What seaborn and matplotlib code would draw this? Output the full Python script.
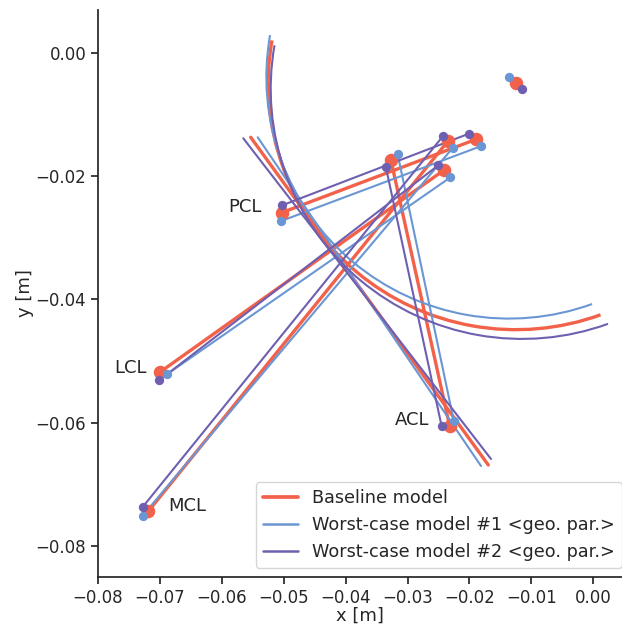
import numpy as np
import pandas as pd
import matplotlib
matplotlib.use("Agg")
import matplotlib.pyplot as plt
from matplotlib.patches import Arc
import seaborn as sns

# ---------------- data (metres) ----------------
models = ["Baseline model",
          "Worst-case model #1 <geo. par.>",
          "Worst-case model #2 <geo. par.>"]

ligaments = ["PCL", "ACL", "LCL", "MCL"]

# lower (labelled) attachment points, order = ligaments
base_low_x = [-0.0503, -0.0232, -0.0700, -0.0719]
base_low_y = [-0.0259, -0.0605, -0.0518, -0.0744]
wc1_low_x = [-0.0505, -0.0225, -0.0688, -0.0728]
wc1_low_y = [-0.0273, -0.0598, -0.0521, -0.0751]
wc2_low_x = [-0.0502, -0.0245, -0.0701, -0.0728]
wc2_low_y = [-0.0247, -0.0605, -0.0531, -0.0737]

# upper attachment points, order = ligaments
base_up_x = [-0.0189, -0.0327, -0.0241, -0.0234]
base_up_y = [-0.0140, -0.0173, -0.0190, -0.0142]
wc1_up_x = [-0.0181, -0.0316, -0.0231, -0.0227]
wc1_up_y = [-0.0151, -0.0164, -0.0202, -0.0154]
wc2_up_x = [-0.0201, -0.0335, -0.0250, -0.0242]
wc2_up_y = [-0.0131, -0.0185, -0.0182, -0.0134]

# femur origin (centre of condyle arc)
origin_x = [-0.0125, -0.0136, -0.0115]
origin_y = [-0.0049, -0.0039, -0.0058]
# condyle arc radius and angular span (deg)
arc_radius = [0.0400, 0.0392, 0.0406]
arc_theta1 = [170.0, 170.0, 170.0]
arc_theta2 = [290.0, 290.0, 290.0]

# tibial line end points
tib_x1 = [-0.05533, -0.0542, -0.05653]
tib_y1 = [-0.01368, -0.01368, -0.01384]
tib_x2 = [-0.01695, -0.01813, -0.01651]
tib_y2 = [-0.06686, -0.06702, -0.06589]

label_text = ["PCL", "ACL", "LCL", "MCL"]
label_x = [-0.0535, -0.0264, -0.0721, -0.0687]
label_y = [-0.0250, -0.0596, -0.0511, -0.0735]
label_ha = ["right", "right", "right", "left"]

# ---------------- styling ----------------
colors = ["#F2614A", "#6A97D3", "#6E5FB0"]
line_w = [2.4, 1.5, 1.5]
dot_s = [95, 45, 45]

low_x = [base_low_x, wc1_low_x, wc2_low_x]
low_y = [base_low_y, wc1_low_y, wc2_low_y]
up_x = [base_up_x, wc1_up_x, wc2_up_x]
up_y = [base_up_y, wc1_up_y, wc2_up_y]

sns.set_theme(style="ticks")
plt.rcParams["font.family"] = ["DejaVu Sans"]

fig = plt.figure(figsize=(6.22, 6.28), dpi=100)
ax = fig.add_axes([98 / 622, 1 - 577 / 628, (622 - 98) / 622, (577 - 10) / 628])

for m in range(3):
    rows = []
    for i, lig in enumerate(ligaments):
        rows.append({"x": low_x[m][i], "y": low_y[m][i], "seg": lig, "k": 0})
        rows.append({"x": up_x[m][i], "y": up_y[m][i], "seg": lig, "k": 1})
    rows.append({"x": tib_x1[m], "y": tib_y1[m], "seg": "tib", "k": 0})
    rows.append({"x": tib_x2[m], "y": tib_y2[m], "seg": "tib", "k": 1})
    df = pd.DataFrame(rows)
    sns.lineplot(data=df, x="x", y="y", units="seg", estimator=None, sort=False,
                 color=colors[m], lw=line_w[m], ax=ax, zorder=2 + m)
    ax.add_patch(Arc((origin_x[m], origin_y[m]), 2 * arc_radius[m], 2 * arc_radius[m],
                     theta1=arc_theta1[m], theta2=arc_theta2[m],
                     color=colors[m], lw=line_w[m], zorder=2 + m))

for m in range(3):
    pts = pd.DataFrame({"x": low_x[m] + up_x[m] + [origin_x[m]],
                        "y": low_y[m] + up_y[m] + [origin_y[m]]})
    sns.scatterplot(data=pts, x="x", y="y", color=colors[m], s=dot_s[m],
                    linewidth=0, ax=ax, zorder=6 + m)

for t, x, y, ha in zip(label_text, label_x, label_y, label_ha):
    ax.text(x, y, t, ha=ha, va="center", fontsize=13, color="#262626")

handles = [plt.Line2D([], [], color=colors[m], lw=line_w[m] + 0.3) for m in range(3)]
ax.legend(handles, models, loc="lower right", fontsize=12.7,
          bbox_to_anchor=(1.0, 1 - 568 / 628), bbox_transform=fig.transFigure,
          borderaxespad=0.0, frameon=True)

ax.set_xlim(-0.08, 0.00465)
ax.set_ylim(-0.08504, 0.00698)
ax.set_xticks([-0.08, -0.07, -0.06, -0.05, -0.04, -0.03, -0.02, -0.01, 0.0])
ax.set_yticks([-0.08, -0.06, -0.04, -0.02, 0.0])
ax.set_xlabel("x [m]", fontsize=13, labelpad=0)
ax.set_ylabel("y [m]", fontsize=13, labelpad=1)
ax.tick_params(labelsize=12, length=5)
sns.despine(ax=ax)

fig.savefig("out.png", dpi=100)
